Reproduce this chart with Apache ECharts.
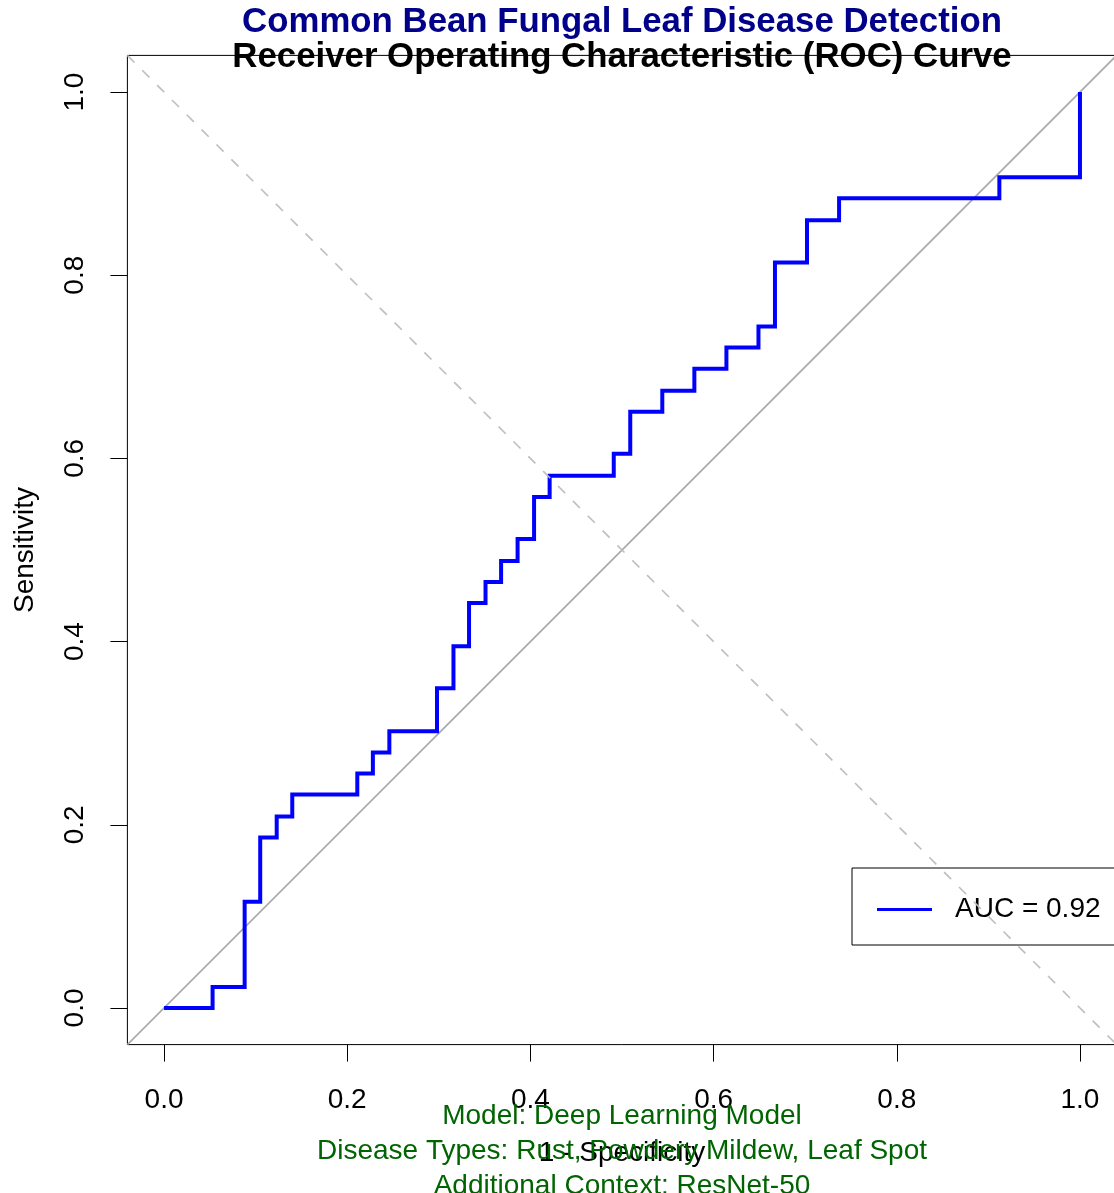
<!DOCTYPE html>
<html>
<head>
<meta charset="utf-8">
<script src="https://cdn.jsdelivr.net/npm/echarts@6/dist/echarts.min.js"></script>
<style>
  html, body { margin: 0; padding: 0; background: #fff; }
  #chart { width: 1114px; height: 1193px; }
</style>
</head>
<body>
<div id="chart"></div>
<script>
// ---- data ----
const fpr = [0, 0.053, 0.088, 0.105, 0.123, 0.140, 0.211, 0.228, 0.246, 0.298, 0.316, 0.333, 0.351, 0.368,
             0.386, 0.404, 0.421, 0.491, 0.509, 0.544, 0.579, 0.614, 0.649, 0.667, 0.702, 0.737, 0.912, 1.0];
const tpr = [0, 0.023, 0.116, 0.186, 0.209, 0.233, 0.256, 0.279, 0.302, 0.349, 0.395, 0.442, 0.465, 0.488,
             0.512, 0.558, 0.581, 0.605, 0.651, 0.674, 0.698, 0.721, 0.744, 0.814, 0.860, 0.884, 0.907, 1.0];
const xTicks = [0, 0.2, 0.4, 0.6, 0.8, 1.0];
const yTicks = [0, 0.2, 0.4, 0.6, 0.8, 1.0];
const aucLabel = 'AUC = 0.92';
const titleMain = 'Common Bean Fungal Leaf Disease Detection';
const titleSub = 'Receiver Operating Characteristic (ROC) Curve';
const footLines = ['Model: Deep Learning Model', 'Disease Types: Rust, Powdery Mildew, Leaf Spot', 'Additional Context: ResNet-50'];
const axisMin = -0.04, axisMax = 1.04;

const FONT = "'Liberation Sans', Arial, Helvetica, sans-serif";
const roc = fpr.map((x, i) => [x, tpr[i]]);
const diag = [[axisMin, axisMin], [axisMax, axisMax]];
const antiDiag = [[axisMin, 1 - axisMin], [axisMax, 1 - axisMax]];

const chart = echarts.init(document.getElementById('chart'), null, { renderer: 'canvas' });
const option = {
  animation: false,
  backgroundColor: '#ffffff',
  grid: {
    left: 127.4, top: 55.4, width: 989.2, height: 989.2,
    show: true, borderColor: '#000', borderWidth: 1, backgroundColor: 'transparent',
    containLabel: false, outerBoundsMode: 'none'
  },
  xAxis: {
    type: 'value', min: axisMin, max: axisMax, position: 'bottom',
    axisLine: { show: false, onZero: false },
    splitLine: { show: false },
    axisTick: { show: true, customValues: xTicks, length: 17, inside: false, lineStyle: { color: '#000', width: 1 } },
    axisLabel: { customValues: xTicks, formatter: v => v.toFixed(1), fontSize: 28, fontFamily: FONT, color: '#000', margin: 42 },
    name: '1 - Specificity', nameLocation: 'middle', nameGap: 95,
    nameTextStyle: { fontSize: 28, fontFamily: FONT, color: '#000' }
  },
  yAxis: {
    type: 'value', min: axisMin, max: axisMax, position: 'left',
    axisLine: { show: false, onZero: false },
    splitLine: { show: false },
    axisTick: { show: true, customValues: yTicks, length: 17, inside: false, lineStyle: { color: '#000', width: 1 } },
    axisLabel: { customValues: yTicks, rotate: 90, formatter: v => v.toFixed(1), fontSize: 28, fontFamily: FONT, color: '#000', margin: 38 },
    name: 'Sensitivity', nameLocation: 'middle', nameGap: 88, nameRotate: 90,
    nameTextStyle: { fontSize: 28, fontFamily: FONT, color: '#000' }
  },
  legend: {
    data: [aucLabel],
    left: 852, top: 868,
    orient: 'vertical',
    padding: [27.5, 25, 21.5, 25],
    borderColor: '#000', borderWidth: 1, borderRadius: 0,
    backgroundColor: 'transparent',
    icon: 'rect', itemWidth: 55, itemHeight: 3,
    textStyle: { fontSize: 28, fontFamily: FONT, color: '#000', padding: [0, 0, 0, 18] },
    selectedMode: false
  },
  series: [
    {
      name: 'diag', type: 'line', data: diag, symbol: 'none', silent: true, z: 1,
      lineStyle: { color: '#a9a9a9', width: 1.6 }, clip: true
    },
    {
      name: aucLabel, type: 'line', data: roc, step: 'end', symbol: 'none', z: 3,
      color: '#0000ff',
      lineStyle: { color: '#0000ff', width: 4, cap: 'butt', join: 'miter' }, clip: true
    },
    {
      name: 'antidiag', type: 'line', data: antiDiag, symbol: 'none', silent: true, z: 4,
      lineStyle: { color: '#bebebe', width: 1.6, type: [10, 11] }, clip: true
    }
  ],
  graphic: [
    { type: 'text', x: 622, y: 22.5, z: 10, style: { text: titleMain, font: 'bold 34.8px ' + FONT, fill: '#00008b', textAlign: 'center', textVerticalAlign: 'middle' } },
    { type: 'text', x: 622, y: 57, z: 10, style: { text: titleSub, font: 'bold 34.8px ' + FONT, fill: '#000', textAlign: 'center', textVerticalAlign: 'middle' } },
    { type: 'text', x: 622, y: 1116, z: 10, style: { text: footLines[0], font: '28px ' + FONT, fill: '#006400', textAlign: 'center', textVerticalAlign: 'middle' } },
    { type: 'text', x: 622, y: 1151, z: 10, style: { text: footLines[1], font: '28px ' + FONT, fill: '#006400', textAlign: 'center', textVerticalAlign: 'middle' } },
    { type: 'text', x: 622, y: 1186, z: 10, style: { text: footLines[2], font: '28px ' + FONT, fill: '#006400', textAlign: 'center', textVerticalAlign: 'middle' } }
  ]
};
chart.setOption(option);
</script>
</body>
</html>
